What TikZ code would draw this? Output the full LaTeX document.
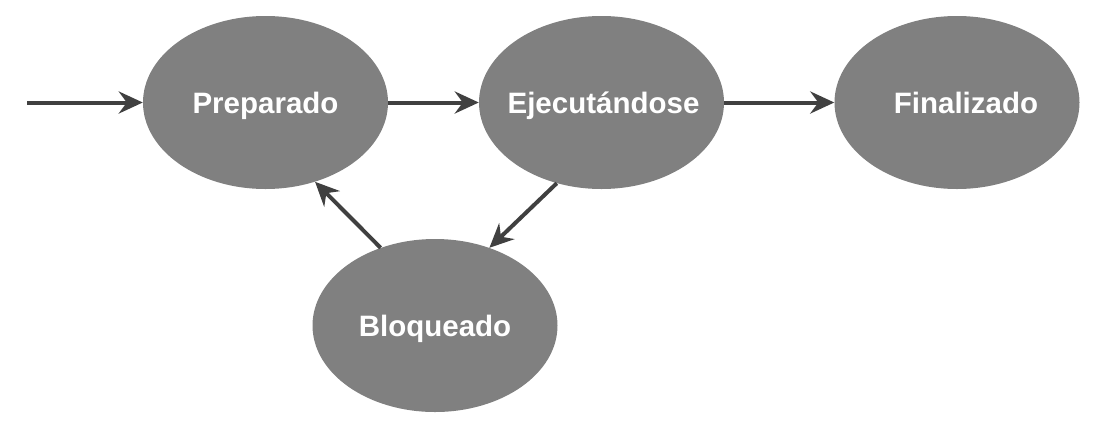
\documentclass[tikz,border=0pt]{standalone}
\usepackage{fontspec}
\setmainfont{Liberation Sans}
\usetikzlibrary{shapes.geometric}
\usetikzlibrary{arrows.meta}

\definecolor{grisestado}{RGB}{128,128,128}
\definecolor{grisflecha}{RGB}{64,64,64}

\tikzset{
  estado/.style={ellipse, fill=grisestado, draw=none, inner sep=0pt,
    minimum width=245pt, minimum height=173pt, text=white,
    font=\bfseries\fontsize{29.5}{30}\selectfont, text height=21pt, text depth=0pt},
  flecha/.style={draw=grisflecha, line width=4pt,
    -{Stealth[length=24pt, width=22pt, inset=8pt]}}
}

\begin{document}
\begin{tikzpicture}[x=1pt, y=-1pt]

        \useasboundingbox (0,0) rectangle (1106,432);

        % States
        \node[estado] (prep) at (265.5,102.5) {\makebox[0pt]{Preparado}};
        \node[estado] (ejec) at (601.5,102.5) {\makebox[0pt]{\hspace{4pt}Ejecutándose}};
        \node[estado] (fin)  at (957,102.5)   {\makebox[0pt]{\hspace{18pt}Finalizado}};
        \node[estado] (bloq) at (435,325.5)   {\makebox[0pt]{Bloqueado}};

        % Entry arrow
        \coordinate (inicio) at (27,102.5);
        \draw[flecha] (inicio) -- (prep);

        % Transitions
        \draw[flecha] (prep) -- (ejec);
        \draw[flecha] (ejec) -- (fin);
        \draw[flecha] (ejec.241) -- (bloq.55);
        \draw[flecha] (bloq.125) -- (prep.-58);

\end{tikzpicture}
\end{document}
